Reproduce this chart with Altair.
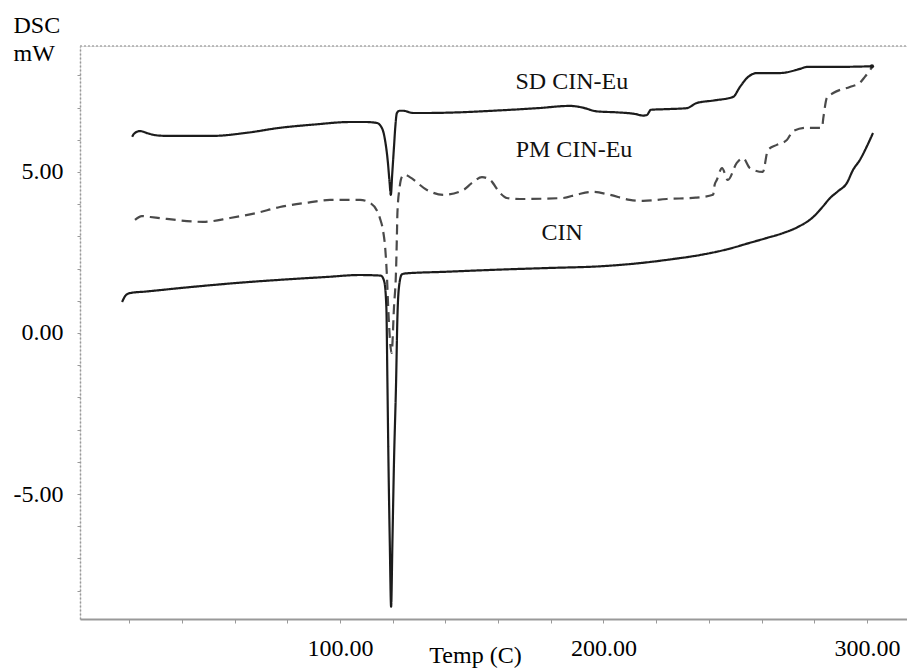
import altair as alt
import pandas as pd

# ---- data ----
sd_x = [21.1, 22.0, 24.1, 27.0, 30.0, 34.3, 51.8, 65.0, 77.2, 90.0, 103.8, 110.0, 114.0,
        116.0, 117.1, 118.2, 118.8, 119.3, 119.8, 120.5, 121.0, 121.6, 122.6, 124.0, 127.7,
        133.0, 145.0, 158.0, 175.0, 187.3, 192.0, 197.5, 205.0, 212.0, 215.0, 216.5, 218.0,
        224.0, 231.6, 235.4, 242.0, 249.2, 251.8, 254.5, 258.3, 267.0, 274.6, 277.2, 287.0, 301.9]
sd_y = [6.09, 6.20, 6.27, 6.20, 6.14, 6.12, 6.12, 6.22, 6.37, 6.47, 6.55, 6.55, 6.52,
        6.35, 5.99, 5.28, 4.70, 4.29, 4.90, 5.78, 6.40, 6.83, 6.90, 6.90, 6.83,
        6.83, 6.85, 6.90, 6.98, 7.05, 7.00, 6.88, 6.85, 6.80, 6.75, 6.77, 6.93,
        6.95, 6.98, 7.14, 7.22, 7.33, 7.64, 7.92, 8.07, 8.07, 8.20, 8.26, 8.26, 8.28]

pm_x = [22.2, 24.8, 28.0, 34.3, 48.0, 58.3, 68.0, 77.2, 88.0, 96.2, 107.6, 111.4, 114.0,
        115.2, 116.3, 117.2, 117.8, 118.3, 119.6, 120.5, 121.3, 121.6, 121.8, 122.6, 123.5,
        124.5, 126.5, 133.0, 139.2, 146.8, 150.0, 153.9, 157.0, 160.7, 163.3, 168.3, 184.6,
        190.0, 196.0, 202.0, 210.0, 215.0, 224.0, 235.0, 241.6, 242.2, 243.0, 245.0, 247.2,
        250.6, 253.0, 255.6, 260.5, 262.4, 265.8, 269.6, 272.0, 277.2, 282.9, 283.5, 284.8,
        287.2, 293.5, 297.2, 299.2, 302.0]
pm_y = [3.51, 3.63, 3.60, 3.54, 3.45, 3.57, 3.72, 3.91, 4.05, 4.13, 4.13, 4.04, 3.80,
        3.55, 3.20, 2.60, 1.80, 0.80, -0.62, 0.80, 2.00, 3.00, 3.73, 4.50, 4.85,
        4.92, 4.84, 4.44, 4.29, 4.44, 4.65, 4.84, 4.75, 4.35, 4.19, 4.16, 4.19,
        4.30, 4.38, 4.30, 4.13, 4.10, 4.16, 4.20, 4.29, 4.60, 4.75, 5.12, 4.75,
        5.28, 5.43, 5.12, 5.00, 5.68, 5.84, 5.99, 6.27, 6.37, 6.37, 6.71, 7.30,
        7.45, 7.64, 7.76, 7.95, 8.26]

cin_x = [17.3, 18.5, 20.3, 26.8, 40.0, 51.8, 65.0, 77.2, 95.0, 107.6, 115.5, 116.8,
         117.6, 118.0, 118.4, 118.9, 119.4, 119.9, 120.5, 121.3, 121.8, 122.5, 123.5, 125.0,
         140.0, 158.0, 180.0, 198.7, 213.9, 225.0, 236.6, 247.0, 255.6, 262.0, 268.1, 274.0,
         279.6, 283.0, 286.0, 289.0, 292.4, 294.7, 297.3, 300.0, 302.3]
cin_y = [0.96, 1.15, 1.24, 1.29, 1.40, 1.49, 1.58, 1.65, 1.74, 1.80, 1.78, 1.60,
         0.80, -1.50, -4.00, -6.50, -8.50, -6.50, -4.00, -1.50, 0.50, 1.50, 1.82, 1.85,
         1.90, 1.96, 2.02, 2.07, 2.17, 2.28, 2.42, 2.60, 2.80, 2.95, 3.10, 3.30,
         3.60, 3.90, 4.19, 4.40, 4.66, 5.06, 5.37, 5.80, 6.21]

label_text = ["SD CIN-Eu", "PM CIN-Eu", "CIN"]
label_x = [188.0, 188.8, 184.3]
label_y = [7.80, 5.68, 3.11]

x_ticks = list(range(20, 301, 20))
y_ticks = list(range(-8, 9))

# ---- build tables ----
rows = []
for name, xs, ys in [("SD CIN-Eu", sd_x, sd_y), ("PM CIN-Eu", pm_x, pm_y), ("CIN", cin_x, cin_y)]:
    for i, (a, b) in enumerate(zip(xs, ys)):
        rows.append({"series": name, "x": a, "y": b, "order": i})
df = pd.DataFrame(rows)
labels_df = pd.DataFrame({"text": label_text, "x": label_x, "y": label_y})
end_df = pd.DataFrame({"x": [sd_x[-1]], "y": [sd_y[-1]]})

W, H = 827, 573
FONT = "Liberation Serif"

xscale = alt.Scale(domain=[1.33, 315.2], nice=False, zero=False)
yscale = alt.Scale(domain=[-8.88, 8.91], nice=False, zero=False)

xaxis = alt.Axis(values=x_ticks,
                 labelExpr="datum.value % 100 === 0 ? format(datum.value, '.2f') : ''",
                 title="Temp (C)", titleX=395, titleY=36, titleBaseline="middle",
                 titleAlign="center", titleAnchor="start",
                 titleFontSize=24, titleFontWeight="normal", titleFont=FONT,
                 labelFontSize=24, labelFont=FONT, labelColor="black", labelPadding=13,
                 tickSize=4, tickColor="#999", domainColor="#999", domainWidth=2,
                 grid=False, labelOverlap=False, labelFlush=False)
yaxis = alt.Axis(values=y_ticks,
                 labelExpr=("datum.value % 5 === 0 ? (datum.value < 0 ? '-' + format(-datum.value, '.2f')"
                            " : format(datum.value, '.2f')) : ''"),
                 title=["DSC", "mW"], titleAngle=0, titleAlign="left", titleBaseline="alphabetic",
                 titleX=-67, titleY=-14, titleLineHeight=28,
                 titleFontSize=24, titleFontWeight="normal", titleFont=FONT,
                 labelFontSize=24, labelFont=FONT, labelColor="black", labelPadding=14,
                 tickSize=3, tickColor="#999", domainColor="#999", domainWidth=1.5,
                 domainDash=[2, 2], grid=False, labelOverlap=False, labelFlush=False)

X = alt.X("x:Q", scale=xscale, axis=xaxis)
Y = alt.Y("y:Q", scale=yscale, axis=yaxis)

lines = alt.Chart(df).mark_line(strokeWidth=2.2, interpolate="monotone").encode(
    x=X, y=Y,
    detail="series:N",
    order="order:Q",
    color=alt.Color("series:N",
                    scale=alt.Scale(domain=["SD CIN-Eu", "PM CIN-Eu", "CIN"],
                                    range=["#1c1c1c", "#4a4a4a", "#1c1c1c"]),
                    legend=None),
    strokeDash=alt.StrokeDash("series:N",
                              scale=alt.Scale(domain=["SD CIN-Eu", "PM CIN-Eu", "CIN"],
                                              range=[[1, 0], [10, 6], [1, 0]]),
                              legend=None),
)

end_dot = alt.Chart(end_df).mark_point(filled=True, size=18, color="#1c1c1c", opacity=1).encode(
    x=X, y=Y)

texts = alt.Chart(labels_df).mark_text(font=FONT, fontSize=24, color="#111",
                                       align="center", baseline="middle").encode(
    x=X, y=Y, text="text:N")

top_border = alt.Chart(end_df).mark_rule(color="#aaa", strokeWidth=1.5, strokeDash=[2, 2]).encode(
    x=alt.value(0), x2=alt.value(W), y=alt.value(0))

chart = alt.layer(lines, end_dot, texts, top_border).properties(
    width=W, height=H,
    autosize=alt.AutoSizeParams(type="none"),
    padding={"left": 80, "top": 46, "right": 0, "bottom": 51},
    background="white",
).configure_view(stroke=None).configure(font=FONT)

chart.save("out.html", embed_options={"renderer": "svg", "actions": False})
